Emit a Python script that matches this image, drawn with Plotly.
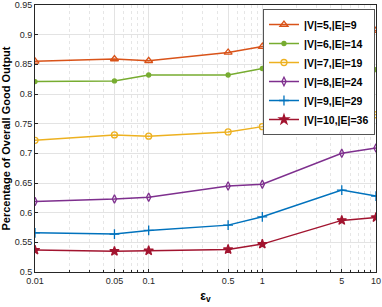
import plotly.graph_objects as go

eps = [0.01, 0.05, 0.1, 0.5, 1, 5, 10]
tick_labels = ["0.01", "0.05", "0.1", "0.5", "1", "5", "10"]
names = ["|V|=5,|E|=9", "|V|=6,|E|=14", "|V|=7,|E|=19",
         "|V|=8,|E|=24", "|V|=9,|E|=29", "|V|=10,|E|=36"]
v5 = [0.855, 0.859, 0.856, 0.870, 0.880, 0.893, 0.907]
v6 = [0.821, 0.822, 0.832, 0.832, 0.843, 0.846, 0.841]
v7 = [0.722, 0.731, 0.729, 0.736, 0.745, 0.779, 0.765]
v8 = [0.619, 0.623, 0.626, 0.645, 0.648, 0.700, 0.709]
v9 = [0.566, 0.564, 0.570, 0.579, 0.593, 0.638, 0.628]
v10 = [0.537, 0.535, 0.536, 0.538, 0.547, 0.587, 0.592]
series = [v5, v6, v7, v8, v9, v10]

colors = ["#D95319", "#77AC30", "#EDB120", "#7E2F8E", "#0072BD", "#A2142F"]
symbols = ["triangle-up-open", "circle", "circle-open", "diamond-tall-open", "cross-thin-open", "star"]
sizes = [7, 4, 6, 6, 7, 7]

fig = go.Figure()
for name, vals, c, s, sz in zip(names, series, colors, symbols, sizes):
    fig.add_trace(go.Scatter(
        x=eps, y=vals, name=name, mode="lines+markers",
        line=dict(color=c, width=1.5),
        marker=dict(symbol=s, size=sz, color=c, line=dict(color=c, width=1.3)),
    ))

minor_vals = [m * 10 ** e for e in (-2, -1, 0) for m in range(2, 10)]
minor_vals = [v for v in minor_vals if v not in eps and v <= 10]

axis_font = dict(family="Liberation Sans, Arial", size=9, color="#262626")
fig.update_layout(
    width=382, height=307,
    margin=dict(l=35, r=6, t=5, b=35, autoexpand=False),
    paper_bgcolor="white", plot_bgcolor="white",
    showlegend=True,
    legend=dict(
        x=0.997, y=0.985, xanchor="right", yanchor="top",
        bgcolor="white", bordercolor="#555555", borderwidth=1,
        font=dict(family="Liberation Sans, Arial", size=10.5, color="black", weight="bold"),
        tracegroupgap=0, itemwidth=30,
    ),
    xaxis=dict(
        type="log", range=[-2, 1], automargin=False,
        tickvals=eps, ticktext=tick_labels,
        tickfont=axis_font, ticks="inside", ticklen=3, tickcolor="#262626",
        showgrid=True, gridcolor="#e3e3e3", gridwidth=1,
        showline=True, linecolor="#262626", linewidth=1, mirror=True,
        minor=dict(tickvals=minor_vals, showgrid=True, gridcolor="#e6e6e6",
                   griddash="dot", ticks="inside", ticklen=2, tickcolor="#262626"),
        title=dict(text="<b>ε<sub>v</sub></b>", font=dict(family="Liberation Sans, Arial", size=12, color="black"), standoff=6),
        zeroline=False,
    ),
    yaxis=dict(
        range=[0.5, 0.95], automargin=False,
        tickvals=[0.5, 0.55, 0.6, 0.65, 0.7, 0.75, 0.8, 0.85, 0.9, 0.95],
        ticktext=["0.5", "0.55", "0.6", "0.65", "0.7", "0.75", "0.8", "0.85", "0.9", "0.95"],
        tickfont=axis_font, ticks="inside", ticklen=3, tickcolor="#262626",
        showgrid=True, gridcolor="#e3e3e3", gridwidth=1,
        showline=True, linecolor="#262626", linewidth=1, mirror=True,
        title=dict(text="<b>Percentage of Overall Good Output</b>", font=dict(family="Liberation Sans, Arial", size=11, color="black"), standoff=6),
        zeroline=False,
    ),
)
fig.write_html("out.html", config={"displayModeBar": False},
               post_script="document.body.style.margin='0';document.body.style.overflow='hidden';")
